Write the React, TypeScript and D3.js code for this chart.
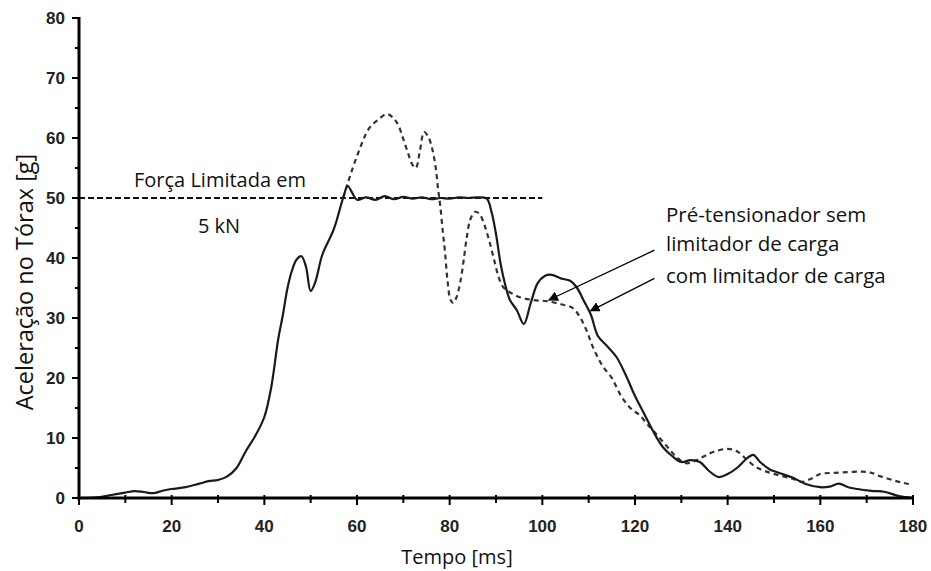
import React, { useEffect, useRef } from 'react';
import * as d3 from 'd3';

// time [ms] and thorax acceleration [g]
const withLimiterT = [0, 4, 7, 10, 12, 14, 16, 18, 20, 23, 26, 28, 30, 32, 34, 36, 38, 40, 41.5, 43, 44, 45, 46, 47, 48, 49, 50, 51, 52.5, 55, 57, 58, 59, 60, 62, 64, 66, 68, 70, 72, 74, 76, 78, 80, 82, 84, 86, 88, 89, 90, 91, 92, 93, 94.5, 96, 97.5, 99, 100.5, 102, 104, 106, 107.5, 109, 110.5, 112, 114, 116, 118, 120, 122, 124, 126, 128, 130, 132, 134, 136, 138, 140, 142, 144, 145.5, 147, 149, 151, 154, 157, 160, 162, 164, 166, 168, 171, 174, 177, 180];
const withLimiterG = [0, 0.1, 0.5, 0.9, 1.15, 1.0, 0.8, 1.2, 1.5, 1.8, 2.4, 2.8, 3.0, 3.6, 5.0, 7.8, 10.3, 13.5, 18.5, 26.5, 30.5, 35, 38, 39.8, 40.3, 38.5, 34.5, 36, 40.5, 44.8, 50, 52, 50.8, 49.7, 50.1, 49.7, 50.3, 49.8, 50.2, 49.9, 50.1, 49.8, 50.0, 49.9, 50.1, 50.0, 50.1, 49.9, 47.8, 44, 39, 35.5, 33, 31.3, 29, 32.5, 35.8, 37, 37.2, 36.6, 36.2, 35, 32.8, 30.5, 27, 25.3, 23.5, 20.5, 17, 14, 11, 8.5, 7, 6.0, 6.3, 6.0, 4.5, 3.5, 4.0, 5.0, 6.5, 7.2, 6, 4.8, 4.2, 3.4, 2.3, 1.8, 1.9, 2.4, 1.8, 1.5, 1.2, 1.0, 0.3, 0];

// without limiter (dashed) — below 57 ms it lies on the solid curve
const noLimiterT = [57, 58, 59, 60, 61, 62, 63, 64.5, 66.5, 68, 69, 70, 71, 72, 72.7, 73.5, 74.5, 75.5, 76.3, 77, 77.5, 78, 78.5, 79, 79.5, 80.2, 80.8, 81.5, 82.3, 83, 83.7, 84.5, 85.5, 86.5, 87.5, 88.5, 89.5, 90.5, 91.5, 93, 95, 98, 101, 104, 106.5, 108, 109.5, 111, 113, 115, 117, 119, 121, 123, 125, 127, 129, 131, 133, 135, 137, 140, 142, 144, 146, 148, 151, 154, 156, 158, 160, 163, 166, 169, 171, 173, 176, 178, 180];
const noLimiterG = [50, 52.5, 54.8, 57, 59, 60.8, 62, 63, 64, 63.2, 62, 59.8, 57.5, 55.5, 55, 57.5, 61, 60, 58, 55, 51.5, 48.5, 44.5, 41, 36.5, 33, 32.5, 33.5, 36, 39.5, 43.5, 46.5, 47.7, 47.3, 45.5, 43, 40, 37, 35.2, 34.3, 33.5, 33, 32.8, 32.3, 31.7, 30.3, 28, 25, 22, 20, 17, 15, 13.8, 12, 10.3, 8.5, 6.8, 5.8, 6.2, 7, 7.7, 8.2, 7.8, 6.5, 5.2, 4.5, 3.8, 3.2, 2.7, 3.2, 4, 4.2, 4.3, 4.4, 4.2, 3.6, 2.9, 2.5, 2.2];

const xTicks = [0, 20, 40, 60, 80, 100, 120, 140, 160, 180];
const yTicks = [0, 10, 20, 30, 40, 50, 60, 70, 80];

const limitLevel = 50;
const limitEnd = 100;

export default function App() {
  const ref = useRef<SVGSVGElement>(null);

  useEffect(() => {
    const svg = d3.select(ref.current);
    svg.selectAll('*').remove();

    const x = d3.scaleLinear().domain([0, 180]).range([79, 913]);
    const y = d3.scaleLinear().domain([0, 80]).range([498, 18]);

    const line = d3.line<[number, number]>()
      .x(d => x(d[0]))
      .y(d => y(d[1]))
      .curve(d3.curveCatmullRom.alpha(0.5));

    const solid = withLimiterT.map((t, i) => [t, withLimiterG[i]] as [number, number]);
    const dashed = noLimiterT.map((t, i) => [t, noLimiterG[i]] as [number, number]);

    // limit line at 50 g
    svg.append('line')
      .attr('x1', x(0)).attr('x2', x(limitEnd))
      .attr('y1', y(limitLevel)).attr('y2', y(limitLevel))
      .attr('stroke', '#111').attr('stroke-width', 2)
      .attr('stroke-dasharray', '6,3');

    svg.append('path')
      .attr('d', line(dashed))
      .attr('fill', 'none')
      .attr('stroke', '#333').attr('stroke-width', 2.2)
      .attr('stroke-dasharray', '5,4');

    svg.append('path')
      .attr('d', line(solid))
      .attr('fill', 'none')
      .attr('stroke', '#1a1a1a').attr('stroke-width', 2.2);

    // axes
    const axis = svg.append('g');
    axis.append('line')
      .attr('x1', x(0)).attr('x2', x(0))
      .attr('y1', y(80) - 1).attr('y2', y(0) + 1.5)
      .attr('stroke', '#000').attr('stroke-width', 3);
    axis.append('line')
      .attr('x1', x(0) - 1.5).attr('x2', x(180) + 1)
      .attr('y1', y(0)).attr('y2', y(0))
      .attr('stroke', '#000').attr('stroke-width', 3);

    d3.range(0, 81, 5).forEach(v => {
      const major = v % 10 === 0;
      axis.append('line')
        .attr('x1', x(0) - (major ? 7 : 4)).attr('x2', x(0))
        .attr('y1', y(v)).attr('y2', y(v))
        .attr('stroke', '#000').attr('stroke-width', 2);
    });
    d3.range(0, 181, 10).forEach(t => {
      const major = t % 20 === 0;
      axis.append('line')
        .attr('x1', x(t)).attr('x2', x(t))
        .attr('y1', y(0) - 3).attr('y2', y(0) + (major ? 7 : 5))
        .attr('stroke', '#000').attr('stroke-width', 2);
    });

    axis.selectAll('.ylab')
      .data(yTicks)
      .enter()
      .append('text')
      .attr('x', x(0) - 14)
      .attr('y', d => y(d))
      .attr('dy', '0.35em')
      .style('text-anchor', 'end')
      .style('font-family', 'Liberation Sans, Arial, sans-serif')
      .style('font-size', '17px')
      .style('font-weight', 'bold')
      .style('fill', '#222')
      .text(d => d);

    axis.selectAll('.xlab')
      .data(xTicks)
      .enter()
      .append('text')
      .attr('x', d => x(d))
      .attr('y', 532)
      .style('text-anchor', 'middle')
      .style('font-family', 'Liberation Sans, Arial, sans-serif')
      .style('font-size', '17px')
      .style('font-weight', 'bold')
      .style('fill', '#222')
      .text(d => d);

    const label = (txt: string, px: number, py: number, size: number, anchor = 'start') =>
      svg.append('text')
        .attr('x', px).attr('y', py)
        .style('text-anchor', anchor)
        .style('font-family', 'Open Sans, sans-serif')
        .style('font-size', size + 'px')
        .style('fill', '#111')
        .text(txt);

    label('Força Limitada em', 220, 187, 20, 'middle');
    label('5 kN', 219, 233, 20, 'middle');
    label('Pré-tensionador sem', 666, 222, 20.5);
    label('limitador de carga', 666, 251, 20.5);
    label('com limitador de carga', 666, 283, 20.5);
    label('Tempo [ms]', 457, 564, 20, 'middle');

    svg.append('text')
      .attr('transform', 'translate(33,282) rotate(-90)')
      .style('text-anchor', 'middle')
      .style('font-family', 'Open Sans, sans-serif')
      .style('font-size', '23.5px')
      .style('fill', '#111')
      .text('Aceleração no Tórax [g]');

    // arrows pointing at the curves
    svg.append('defs').append('marker')
      .attr('id', 'head')
      .attr('viewBox', '0 0 10 10')
      .attr('refX', 9).attr('refY', 5)
      .attr('markerWidth', 10).attr('markerHeight', 10)
      .attr('markerUnits', 'userSpaceOnUse')
      .attr('orient', 'auto')
      .append('path')
      .attr('d', 'M0,0L10,5L0,10Z')
      .attr('fill', '#000');

    const arrows = [
      { from: [124.2, 41.3], to: [101.4, 33] },
      { from: [124.2, 36.6], to: [110.4, 31.2] },
    ];
    arrows.forEach(a => {
      svg.append('line')
        .attr('x1', x(a.from[0])).attr('y1', y(a.from[1]))
        .attr('x2', x(a.to[0])).attr('y2', y(a.to[1]))
        .attr('stroke', '#000').attr('stroke-width', 1.3)
        .attr('marker-end', 'url(#head)');
    });
  }, []);

  return (
    <svg ref={ref} width={931} height={571}
      style={{ position: 'absolute', left: 0, top: 0, background: '#fff' }} />
  );
}
